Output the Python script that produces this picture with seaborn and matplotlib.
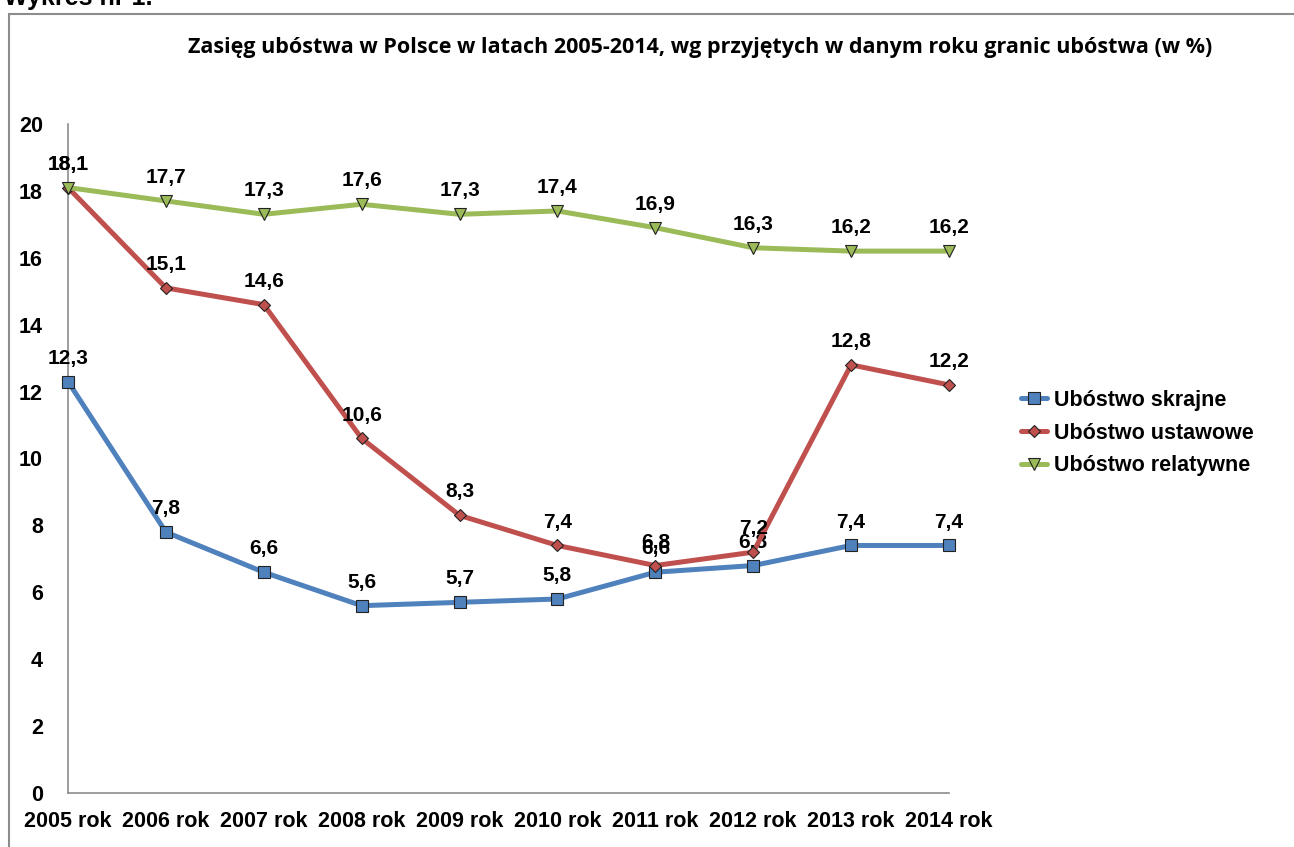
import matplotlib
matplotlib.use("Agg")
import matplotlib.pyplot as plt
import seaborn as sns
import pandas as pd
from matplotlib.patches import Rectangle

years = ["2005 rok", "2006 rok", "2007 rok", "2008 rok", "2009 rok",
         "2010 rok", "2011 rok", "2012 rok", "2013 rok", "2014 rok"]
skrajne = [12.3, 7.8, 6.6, 5.6, 5.7, 5.8, 6.6, 6.8, 7.4, 7.4]
ustawowe = [18.1, 15.1, 14.6, 10.6, 8.3, 7.4, 6.8, 7.2, 12.8, 12.2]
relatywne = [18.1, 17.7, 17.3, 17.6, 17.3, 17.4, 16.9, 16.3, 16.2, 16.2]

series = [
    ("Ubóstwo skrajne", skrajne, "#4F81BD", "s", 9),
    ("Ubóstwo ustawowe", ustawowe, "#C0504D", "D", 6.5),
    ("Ubóstwo relatywne", relatywne, "#9BBB59", "v", 9),
]

sns.set_style("white")
plt.rcParams["font.family"] = ["Liberation Sans", "DejaVu Sans"]
plt.rcParams["text.color"] = "black"
plt.rcParams["xtick.labelcolor"] = "black"
plt.rcParams["ytick.labelcolor"] = "black"

fig = plt.figure(figsize=(12.94, 8.47), dpi=100)
ax = fig.add_axes([68 / 1294, 1 - 793 / 847, (949 - 68) / 1294, (793 - 124) / 847])

# outer frame and caption (cut at top)
fig.patches.append(Rectangle((9 / 1294, -0.1), 1.2, 1 - 14 / 847 + 0.1,
                             transform=fig.transFigure, fill=False,
                             edgecolor="#8c8c8c", linewidth=1.5))
fig.text(4 / 1294, 1 - 5 / 847, "Wykres nr 1.", fontsize=18, fontweight="bold",
         va="baseline", ha="left")

x = list(range(len(years)))
for name, vals, color, marker, ms in series:
    df = pd.DataFrame({"x": x, "y": vals})
    sns.lineplot(data=df, x="x", y="y", ax=ax, color=color, linewidth=3.6,
                 marker=marker, markersize=ms, markerfacecolor=color,
                 markeredgecolor="#222222", markeredgewidth=0.8, label=name,
                 clip_on=False, zorder=3)
    for xi, v in zip(x, vals):
        ax.annotate(f"{v:.1f}".replace(".", ","), (xi, v), xytext=(0, 10),
                    textcoords="offset points", ha="center", va="bottom",
                    fontsize=15, fontweight="bold")

ax.set_xlim(0, 9)
ax.set_ylim(0, 20)
ax.set_yticks(range(0, 21, 2))
ax.set_xticks(x)
ax.set_xticklabels(years)
ax.set_xlabel("")
ax.set_ylabel("")
for s in ["top", "right"]:
    ax.spines[s].set_visible(False)
for s in ["left", "bottom"]:
    ax.spines[s].set_color("#8c8c8c")
    ax.spines[s].set_linewidth(1.2)
ax.tick_params(axis="both", direction="out", length=6, color="#8c8c8c",
               width=1.2, labelsize=15.5, pad=7)
for lbl in ax.get_xticklabels() + ax.get_yticklabels():
    lbl.set_fontweight("bold")
ax.tick_params(axis="y", pad=12)

fig.text(700 / 1294, 1 - 48 / 847,
         "Zasięg ubóstwa w Polsce w latach 2005-2014, wg przyjętych w danym roku granic ubóstwa (w %)",
         ha="center", va="center", fontsize=15.5, fontweight="bold",
         family=["Open Sans", "DejaVu Sans"])

leg = ax.legend(loc="center left", bbox_to_anchor=(1.06, 0.538), frameon=False,
                handlelength=1.2, handletextpad=0.3, labelspacing=0.55,
                prop={"weight": "bold", "size": 15.5})

fig.savefig("out.png", dpi=100)
